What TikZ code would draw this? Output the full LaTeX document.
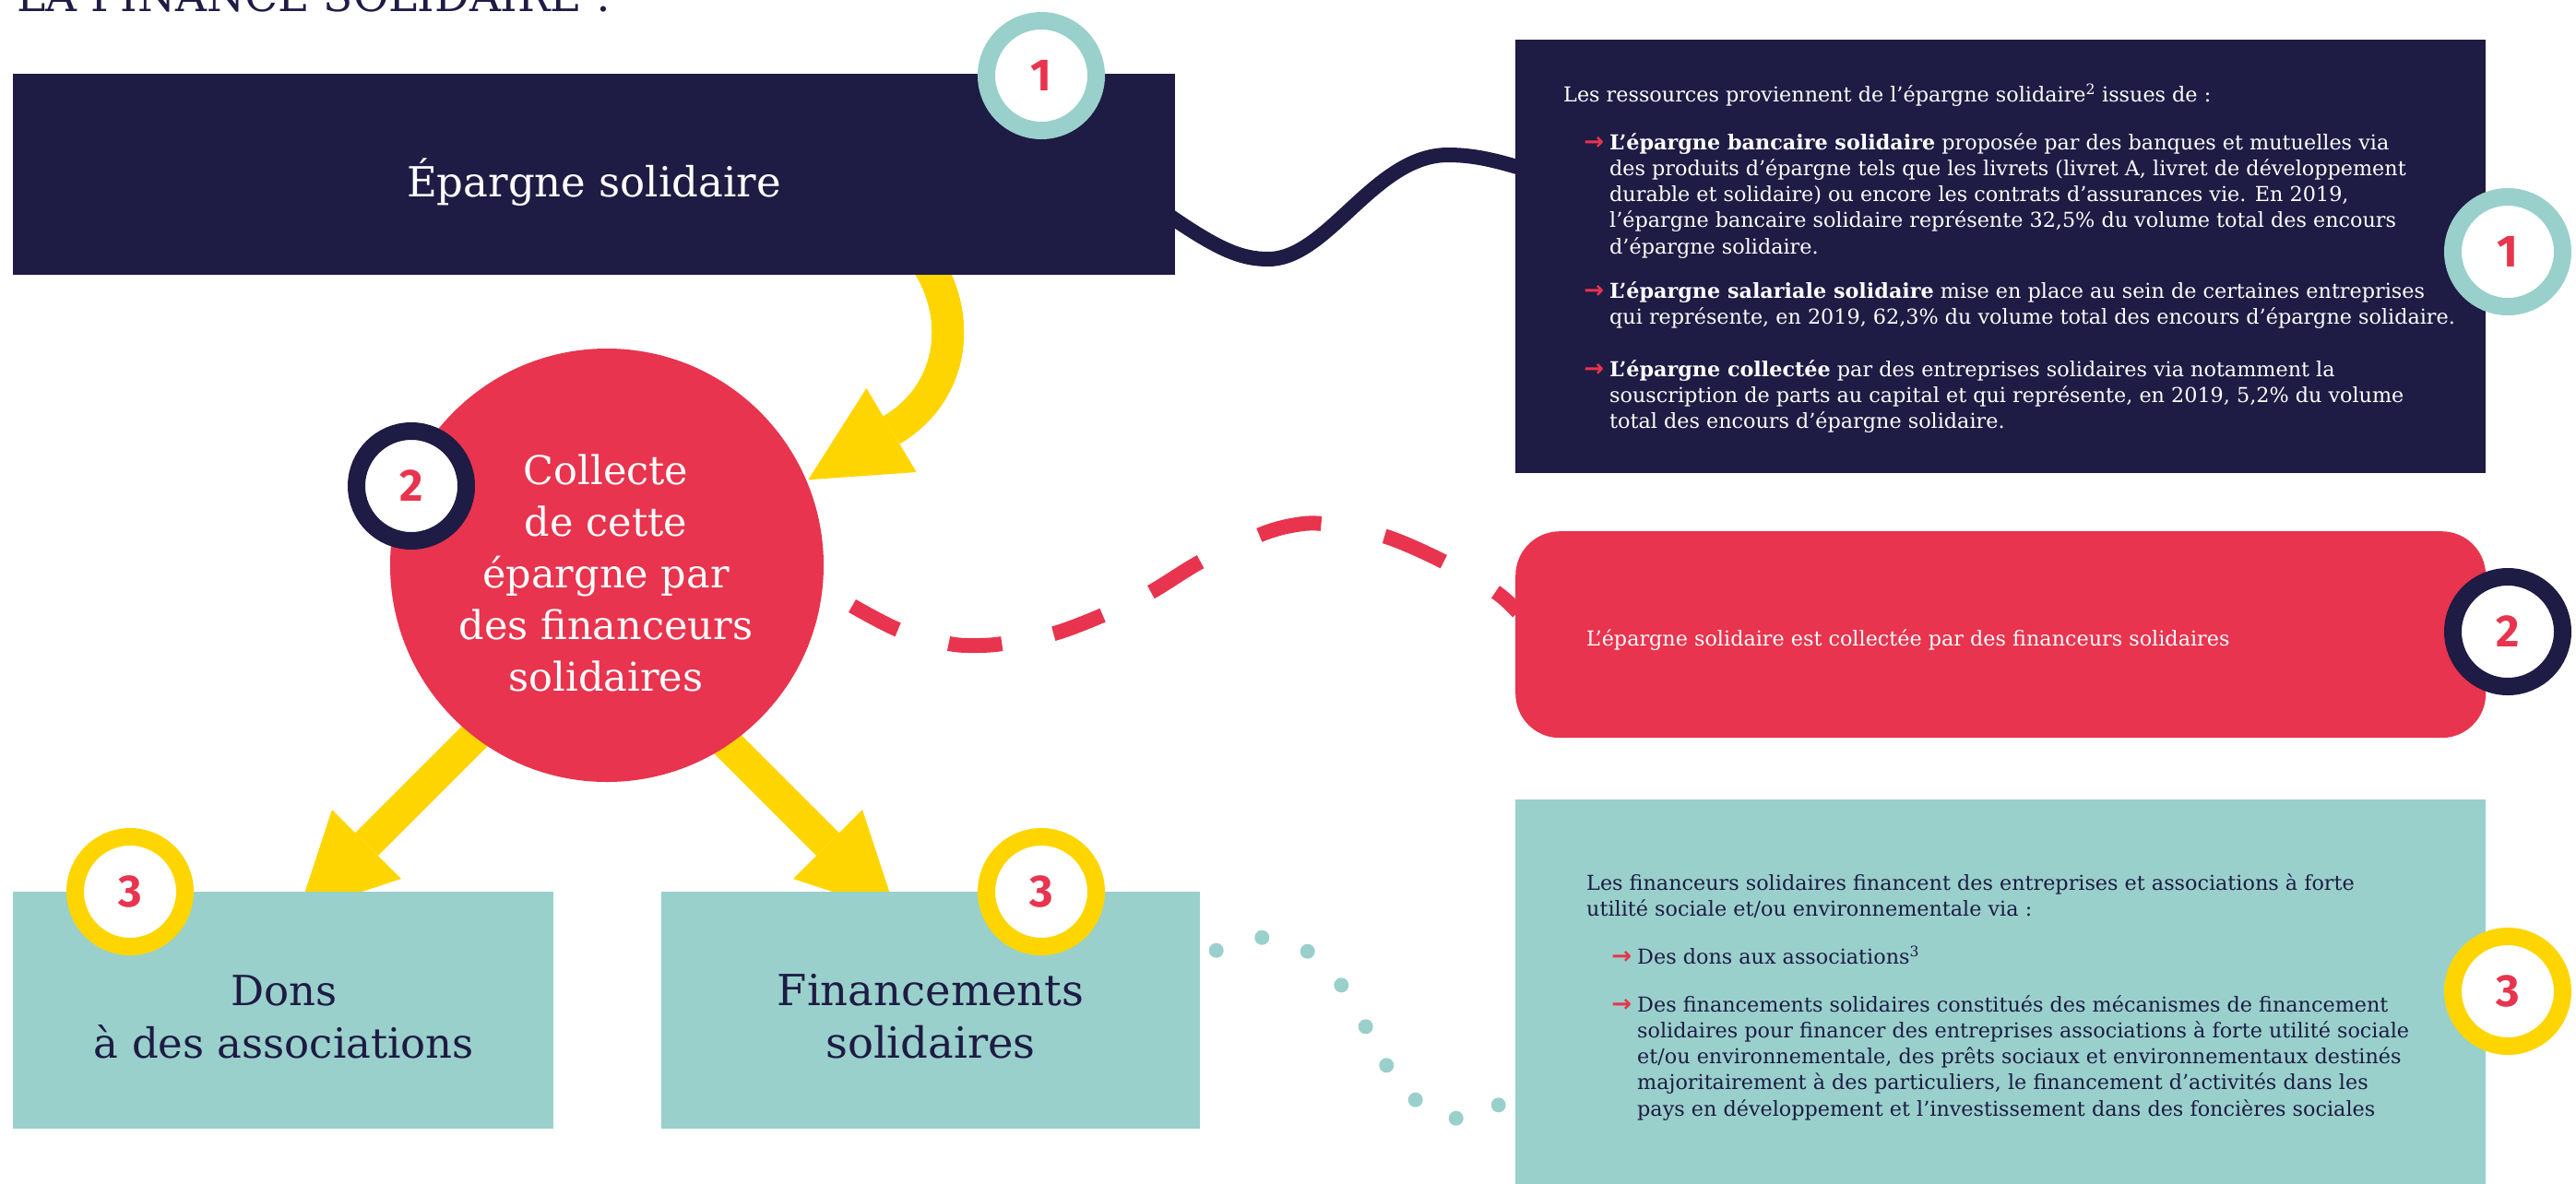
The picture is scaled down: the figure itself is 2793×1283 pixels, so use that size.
\documentclass[tikz,border=0pt]{standalone}
\usepackage{fontspec}
\setmainfont{DejaVu Serif}
\newfontfamily\numfont{Fira Sans}
\newfontfamily\arrfont{DejaVu Sans}
\definecolor{navy}{HTML}{1E1B44}
\definecolor{ired}{HTML}{E8344E}
\definecolor{teal2}{HTML}{99D0CB}
\definecolor{iyel}{HTML}{FFD500}
\newcommand{\bodyf}{\fontsize{22.3}{28.3}\selectfont}
\newcommand{\bigf}{\fontsize{43}{56}\selectfont}
\newcommand{\arr}{\leavevmode\llap{\textcolor{ired}{\arrfont\bfseries\fontsize{26}{26}\selectfont →}\hspace{6pt}}}
\tikzset{
  ring/.style={circle, draw=#1, line width=19pt, fill=white, minimum size=119pt, inner sep=0pt, text=ired, font=\numfont\bfseries\fontsize{49}{49}\selectfont},
  boxn/.style={anchor=north west, inner sep=0pt, draw=none},
  yshaft/.style={draw=iyel, line width=35pt},
  yhead/.style={fill=iyel, draw=none},
  txt/.style={anchor=base west, inner sep=0pt},
  ctxt/.style={anchor=base, inner sep=0pt},
}
\begin{document}
\begin{tikzpicture}[x=1pt,y=-1pt]
\useasboundingbox (0,0) rectangle (2793,1283);
% title
\node[txt, text=navy, font=\fontsize{47}{47}\selectfont] (title) at (18,12) {LA FINANCE SOLIDAIRE :};
% yellow arrows (under shapes)
\coordinate (ta0) at (1005,285); \coordinate (ta1) at (966.5,466.5);
\draw[yshaft] (ta0) .. controls (1043.2,343.7) and (1035.2,425.5) .. (ta1);
\fill[yhead] (939.4,421) -- (993.6,512) -- (876.3,520.3) -- cycle;
\coordinate (la0) at (560,753); \coordinate (la1) at (397.5,915.5);
\draw[yshaft] (la0) -- (la1);
\fill[yhead] (360,878) -- (435,953) -- (323.3,989.7) -- cycle;
\coordinate (ra0) at (735,753); \coordinate (ra1) at (897.5,915.5);
\draw[yshaft] (ra0) -- (ra1);
\fill[yhead] (935,878) -- (860,953) -- (971.7,989.7) -- cycle;
% main shapes
\node[boxn, fill=navy, minimum width=1260pt, minimum height=218pt] (ep) at (14,80) {};
\node[ctxt, text=white, font=\fontsize{45}{54}\selectfont] (eptxt) at (644,213) {Épargne solidaire};
\node[circle, fill=ired, minimum size=470pt, inner sep=0pt] (col) at (658,613) {};
\node[ctxt, text=white] (coltxt) at (657,525) {\parbox[t]{460pt}{\centering\bigf Collecte\\de cette\\épargne par\\des financeurs\\solidaires}};
\node[boxn, fill=teal2, minimum width=586pt, minimum height=257pt] (dons) at (14,967) {};
\node[boxn, fill=teal2, minimum width=584pt, minimum height=257pt] (fin) at (717,967) {};
\node[ctxt, text=navy] (donstxt) at (308,1090) {\parbox[t]{560pt}{\centering\fontsize{45}{57}\selectfont Dons\\à des associations}};
\node[ctxt, text=navy] (fintxt) at (1009,1090) {\parbox[t]{560pt}{\centering\fontsize{46.5}{57}\selectfont Financements\\solidaires}};
% right panels
\node[boxn, fill=navy, minimum width=1052pt, minimum height=470pt] (r1) at (1643,43) {};
\node[boxn, fill=ired, rounded corners=48pt, minimum width=1052pt, minimum height=224pt] (r2) at (1643,576) {};
\node[boxn, fill=teal2, minimum width=1052pt, minimum height=430pt] (r3) at (1643,867) {};
% connectors
\draw[navy, line width=16pt] (1265,232) .. controls (1320,270) and (1345,281) .. (1375,281) .. controls (1440,281) and (1490,168) .. (1570,168) .. controls (1600,168) and (1625,175) .. (1655,184);
\draw[ired, line width=16pt, dash pattern=on 56pt off 57pt on 58pt off 57pt on 57pt off 58pt on 63pt off 70pt on 69pt off 70pt on 70pt off 65pt on 80pt off 10pt]
  plot[smooth, tension=0.5] coordinates {(924,657) (974,683) (1029,698) (1058,700) (1087,698) (1143,687) (1196,667) (1248,642) (1302,609) (1366,580) (1400,570) (1434,568) (1503,582) (1567,610) (1623,643) (1646,664)};
\foreach \p in {(1318.7,1030.7),(1368.3,1016.7),(1417.7,1031.7),(1454.3,1068.3),(1480.7,1113.3),(1503.3,1155.3),(1534.7,1192.7),(1578.7,1212.7),(1624.7,1198.3)}
  \fill[teal2] \p circle[radius=8pt];
% texts right
\node[txt, text=white] (t1) at (1695,110) {\bodyf Les ressources proviennent de l’épargne solidaire\textsuperscript{2} issues de :};
\node[txt, text=white] (t1a) at (1745,162) {\parbox[t]{1000pt}{\raggedright\bodyf\arr\textbf{L’épargne bancaire solidaire} proposée par des banques et mutuelles via\\des produits d’épargne tels que les livrets (livret A, livret de développement\\durable et solidaire) ou encore les contrats d’assurances vie. En 2019,\\l’épargne bancaire solidaire représente 32,5\% du volume total des encours\\d’épargne solidaire.}};
\node[txt, text=white] (t1b) at (1745,323) {\parbox[t]{1000pt}{\raggedright\bodyf\arr\textbf{L’épargne salariale solidaire} mise en place au sein de certaines entreprises\\qui représente, en 2019, 62,3\% du volume total des encours d’épargne solidaire.}};
\node[txt, text=white] (t1c) at (1745,408) {\parbox[t]{1000pt}{\raggedright\bodyf\arr\textbf{L’épargne collectée} par des entreprises solidaires via notamment la\\souscription de parts au capital et qui représente, en 2019, 5,2\% du volume\\total des encours d’épargne solidaire.}};
\node[txt, text=white] (t2) at (1720,700) {\bodyf L’épargne solidaire est collectée par des financeurs solidaires};
\node[txt, text=navy] (t3) at (1720,965) {\parbox[t]{1000pt}{\raggedright\bodyf Les financeurs solidaires financent des entreprises et associations à forte\\utilité sociale et/ou environnementale via :}};
\node[txt, text=navy] (t3a) at (1775,1045) {\bodyf\arr Des dons aux associations\textsuperscript{3}};
\node[txt, text=navy] (t3b) at (1775,1097) {\parbox[t]{1000pt}{\raggedright\bodyf\arr Des financements solidaires constitués des mécanismes de financement\\solidaires pour financer des entreprises associations à forte utilité sociale\\et/ou environnementale, des prêts sociaux et environnementaux destinés\\majoritairement à des particuliers, le financement d’activités dans les\\pays en développement et l’investissement dans des foncières sociales}};
% rings
\node[ring=teal2] (n1a) at (1129,82) {1};
\node[ring=teal2] (n1b) at (2719,273) {1};
\node[ring=navy] (n2a) at (446,527) {2};
\node[ring=navy] (n2b) at (2719,685) {2};
\node[ring=iyel] (n3a) at (141,967) {3};
\node[ring=iyel] (n3b) at (1129,967) {3};
\node[ring=iyel] (n3c) at (2719,1075) {3};
\end{tikzpicture}
\end{document}
